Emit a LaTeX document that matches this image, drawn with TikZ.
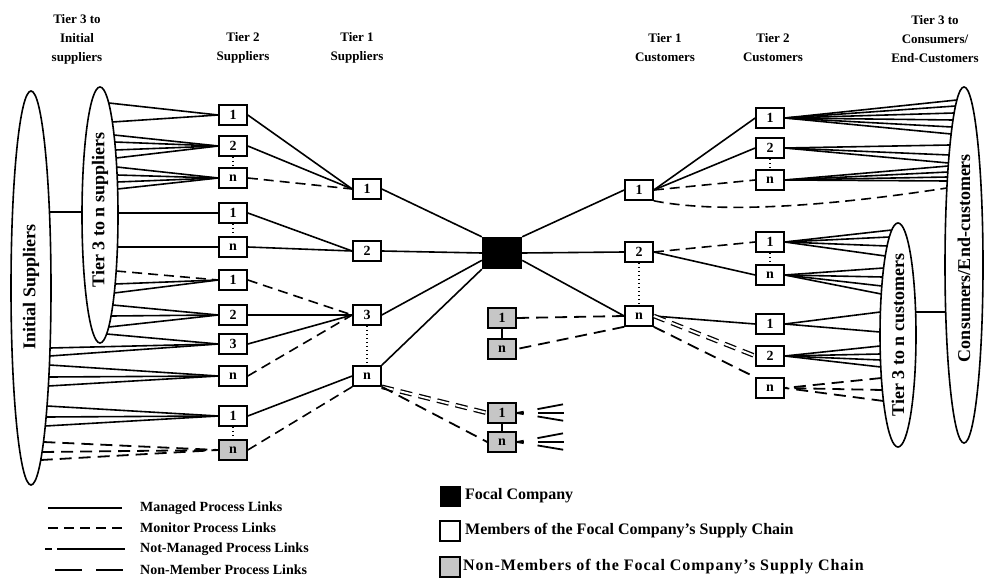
\documentclass[tikz,border=0pt]{standalone}
\usepackage{fontspec}
\setmainfont{Liberation Serif}
\usetikzlibrary{shapes.geometric}
% fan of links from points on an ellipse border (cx,cy,signed rx,ry) to a node anchor
\newcommand\efan[7][managed]{\foreach \yy in {#6}{\draw[#1] ({#2+(#4)*sqrt(1-((\yy-#3)/#5)*((\yy-#3)/#5))},\yy) -- (#7);}}
\begin{document}
\begin{tikzpicture}[x=1pt,y=-1pt,
  box/.style={draw,line width=1.6pt,minimum width=28pt,minimum height=20pt,inner sep=0pt,fill=white,font=\fontsize{14}{14}\selectfont\bfseries},
  nmbox/.style={box,fill=gray!45},
  managed/.style={line width=1.6pt},
  monitor/.style={line width=1.6pt,dash pattern=on 10pt off 6pt},
  nonmem/.style={line width=1.8pt,dash pattern=on 12pt off 7pt},
  nmdouble/.style={nonmem,double,double distance=2pt,line width=1.3pt},
  dots/.style={line width=1.6pt,dash pattern=on 1.6pt off 2.4pt},
  ell/.style={draw,ellipse,line width=1.6pt,inner sep=0pt},
  head/.style={align=center,font=\fontsize{13}{19}\selectfont\bfseries},
  legtxt/.style={anchor=west,inner sep=0pt,font=\fontsize{14}{14}\selectfont\bfseries},
  legtxtb/.style={anchor=west,inner sep=0pt,font=\fontsize{16}{16}\selectfont\bfseries},
  elltxt/.style={rotate=90,inner sep=0pt,font=\fontsize{18}{18}\selectfont\bfseries}
]
\useasboundingbox (0,0) rectangle (992,588);

% headers
\node[head] (h1) at (77,39) {Tier 3 to\\Initial\\suppliers};
\node[head] (h2) at (243,48) {Tier 2\\Suppliers};
\node[head] (h3) at (357,48) {Tier 1\\Suppliers};
\node[head] (h4) at (665,48) {Tier 1\\Customers};
\node[head] (h5) at (773,48) {Tier 2\\Customers};
\node[head] (h6) at (935,39) {Tier 3 to\\Consumers/\\End-Customers};

% ellipses
\node[ell,minimum width=40pt,minimum height=394pt] (E0) at (31,288) {};
\node[ell,minimum width=36pt,minimum height=256pt] (E1) at (100,215) {};
\node[ell,minimum width=36pt,minimum height=224pt] (E2) at (898,335) {};
\node[ell,minimum width=38pt,minimum height=356pt] (E3) at (964,265) {};
\node[elltxt] (t0) at (31,287) {Initial Suppliers};
\node[elltxt] (t1) at (100,210) {Tier 3 to n suppliers};
\node[elltxt] (t2) at (898,335) {Tier 3 to n customers};
\node[elltxt] (t3) at (964,258) {Consumers/End-customers};

% tier 2 suppliers
\node[box] (s2a) at (233,115) {1};
\node[box] (s2b) at (233,146) {2};
\node[box] (s2c) at (233,178) {n};
\node[box] (s2d) at (233,213) {1};
\node[box] (s2e) at (233,247) {n};
\node[box] (s2f) at (233,280) {1};
\node[box] (s2g) at (233,315) {2};
\node[box] (s2h) at (233,344) {3};
\node[box] (s2i) at (233,376) {n};
\node[box] (s2j) at (233,416) {1};
\node[nmbox] (s2k) at (233,450) {n};
% tier 1 suppliers
\node[box] (s1a) at (367,189) {1};
\node[box] (s1b) at (367,251) {2};
\node[box] (s1c) at (367,315) {3};
\node[box] (s1d) at (367,376) {n};
% focal company
\node[fill=black,minimum width=40pt,minimum height=32pt,inner sep=0pt] (F) at (502,253) {};
% non-members
\node[nmbox] (nm1) at (502,318) {1};
\node[nmbox] (nm2) at (502,349) {n};
\node[nmbox] (nm3) at (502,413) {1};
\node[nmbox] (nm4) at (502,442) {n};
% tier 1 customers
\node[box] (c1a) at (639,190) {1};
\node[box] (c1b) at (639,252) {2};
\node[box] (c1c) at (639,316) {n};
% tier 2 customers
\node[box] (c2a) at (770,118) {1};
\node[box] (c2b) at (770,148) {2};
\node[box] (c2c) at (770,180) {n};
\node[box] (c2d) at (770,242) {1};
\node[box] (c2e) at (770,275) {n};
\node[box] (c2f) at (770,324) {1};
\node[box] (c2g) at (770,356) {2};
\node[box] (c2h) at (770,388) {n};

% ellipse to ellipse links
\draw[managed] ({31+20*sqrt(1-((212-288)/197)*((212-288)/197))},212) -- ({100-18*sqrt(1-((212-215)/128)*((212-215)/128))},212);
\draw[managed] ({898+18*sqrt(1-((312-335)/112)*((312-335)/112))},312) -- ({964-19*sqrt(1-((312-265)/178)*((312-265)/178))},312);

% tier 3 -> tier 2 suppliers
\efan{100}{215}{18}{128}{103,122}{s2a.west}
\efan{100}{215}{18}{128}{135,142,150,158}{s2b.west}
\efan{100}{215}{18}{128}{167,175,182,189}{s2c.west}
\efan{100}{215}{18}{128}{213}{s2d.west}
\efan{100}{215}{18}{128}{247}{s2e.west}
\efan[monitor]{100}{215}{18}{128}{271}{s2f.west}
\efan{100}{215}{18}{128}{284,293}{s2f.west}
\efan{100}{215}{18}{128}{305,316,327}{s2g.west}
\efan{100}{215}{18}{128}{334}{s2h.west}
\efan{31}{288}{20}{197}{348,356}{s2h.west}
\efan{31}{288}{20}{197}{365,377,386}{s2i.west}
\efan{31}{288}{20}{197}{406,417,426}{s2j.west}
\efan[nonmem]{31}{288}{20}{197}{442,452,460}{s2k.west}

% tier 2 -> tier 1 suppliers
\draw[managed] (s2a.east) -- (s1a.west);
\draw[managed] (s2b.east) -- (s1a.west);
\draw[monitor] (s2c.east) -- (s1a.west);
\draw[managed] (s2d.east) -- (s1b.west);
\draw[managed] (s2e.east) -- (s1b.west);
\draw[monitor] (s2f.east) -- (s1c.west);
\draw[managed] (s2g.east) -- (s1c.west);
\draw[managed] (s2h.east) -- (s1c.west);
\draw[monitor] (s2i.east) -- (s1c.west);
\draw[managed] (s2j.east) -- (s1d.west);
\draw[monitor] (s2k.east) -- (s1d.south west);

% tier 1 suppliers -> focal
\draw[managed] (s1a.east) -- (F.north west);
\draw[managed] (s1b.east) -- (F.west);
\draw[managed] (s1c.east) -- (F.200);
\draw[managed] (s1d.north east) -- (F.south west);

% focal -> tier 1 customers
\draw[managed] (F.north east) -- (c1a.west);
\draw[managed] (F.east) -- (c1b.west);
\draw[managed] (F.-20) -- (c1c.west);

% non-member links in the middle
\draw[nmdouble] (s1d.south east) -- (nm3.west);
\draw[nonmem] (s1d.south east) -- (nm4.west);
\draw[nonmem] (c1c.west) -- (nm1.east);
\draw[nonmem] (c1c.south west) -- (nm2.east);
\foreach \b in {nm3,nm4}{
  \draw[nonmem,dash pattern=on 7pt off 14pt on 26pt off 40pt] (\b.east) -- ++(48,-9);
  \draw[nonmem,dash pattern=on 7pt off 14pt on 26pt off 40pt] (\b.east) -- ++(48,0);
  \draw[nonmem,dash pattern=on 7pt off 14pt on 26pt off 40pt] (\b.east) -- ++(48,8);
}

% tier 1 -> tier 2 customers
\draw[managed] (c1a.east) -- (c2a.west);
\draw[managed] (c1a.east) -- (c2b.west);
\draw[monitor] (c1a.east) -- (c2c.west);
\draw[monitor] (c1a.south east) .. controls (720,214) and (830,206) .. ({964-19*sqrt(1-((188-265)/178)*((188-265)/178))},188);
\draw[monitor] (c1b.east) -- (c2d.west);
\draw[managed] (c1b.east) -- (c2e.west);
\draw[managed] (c1c.east) -- (c2f.west);
\draw[nmdouble] (c1c.east) -- (c2g.west);
\draw[nonmem] (c1c.south east) -- (c2h.north west);

% tier 2 customers -> tier 3 / consumers
\efan{964}{265}{-19}{178}{100,106,113,120,127,134}{c2a.east}
\efan{964}{265}{-19}{178}{145,155,163}{c2b.east}
\efan{964}{265}{-19}{178}{166,172,177,181}{c2c.east}
\efan{898}{335}{-18}{112}{230,237,246,256}{c2d.east}
\efan{898}{335}{-18}{112}{268,277,286,294}{c2e.east}
\efan{898}{335}{-18}{112}{312,332}{c2f.east}
\efan{898}{335}{-18}{112}{346,354,360,367}{c2g.east}
\efan[nonmem]{898}{335}{-18}{112}{378,390,401}{c2h.east}

% dotted "..." links between boxes of a tier
\draw[dots] (s1c.south) -- (s1d.north);
\draw[dots] (s2d.south) -- (s2e.north);
\draw[dots] (s2b.south) -- (s2c.north);
\draw[dots] (s2j.south) -- (s2k.north);
\draw[dots] (c1b.south) -- (c1c.north);
\draw[dots] (c2b.south) -- (c2c.north);
\draw[dots] (c2d.south) -- (c2e.north);
\draw[line width=1.2pt] (nm1.south) -- (nm2.north);
\draw[line width=1.2pt] (nm3.south) -- (nm4.north);

% legend: links
\coordinate (la1) at (48,508); \coordinate (la2) at (122,508);
\coordinate (lb1) at (48,528); \coordinate (lb2) at (125,528);
\coordinate (lc0) at (45,549); \coordinate (lc1) at (52,549);
\coordinate (lc2) at (57,549); \coordinate (lc3) at (125,549);
\coordinate (ld1) at (55,570); \coordinate (ld2) at (125,570);
\draw[managed] (la1) -- (la2);
\draw[monitor] (lb1) -- (lb2);
\draw[managed] (lc0) -- (lc1);
\draw[managed] (lc2) -- (lc3);
\draw[line width=1.8pt,dash pattern=on 27pt off 14pt] (ld1) -- (ld2);
\node[legtxt] (lt1) at (140,508) {Managed Process Links};
\node[legtxt] (lt2) at (140,528) {Monitor Process Links};
\node[legtxt] (lt3) at (140,549) {Not-Managed Process Links};
\node[legtxt] (lt4) at (140,570) {Non-Member Process Links};

% legend: boxes
\node[fill=black,minimum size=21pt,inner sep=0pt] (lg1) at (450,496) {};
\node[draw,line width=1.8pt,minimum size=20pt,inner sep=0pt] (lg2) at (450,531) {};
\node[draw,line width=1.2pt,fill=gray!45,minimum size=20pt,inner sep=0pt] (lg3) at (450,567) {};
\node[legtxtb] (lt5) at (465,496) {Focal Company};
\node[legtxtb] (lt6) at (465,531) {Members of the Focal Company's Supply Chain};
\node[legtxtb] (lt7) at (463,567) {\addfontfeatures{LetterSpace=6}Non-Members of the Focal Company's Supply Chain};
\end{tikzpicture}
\end{document}
